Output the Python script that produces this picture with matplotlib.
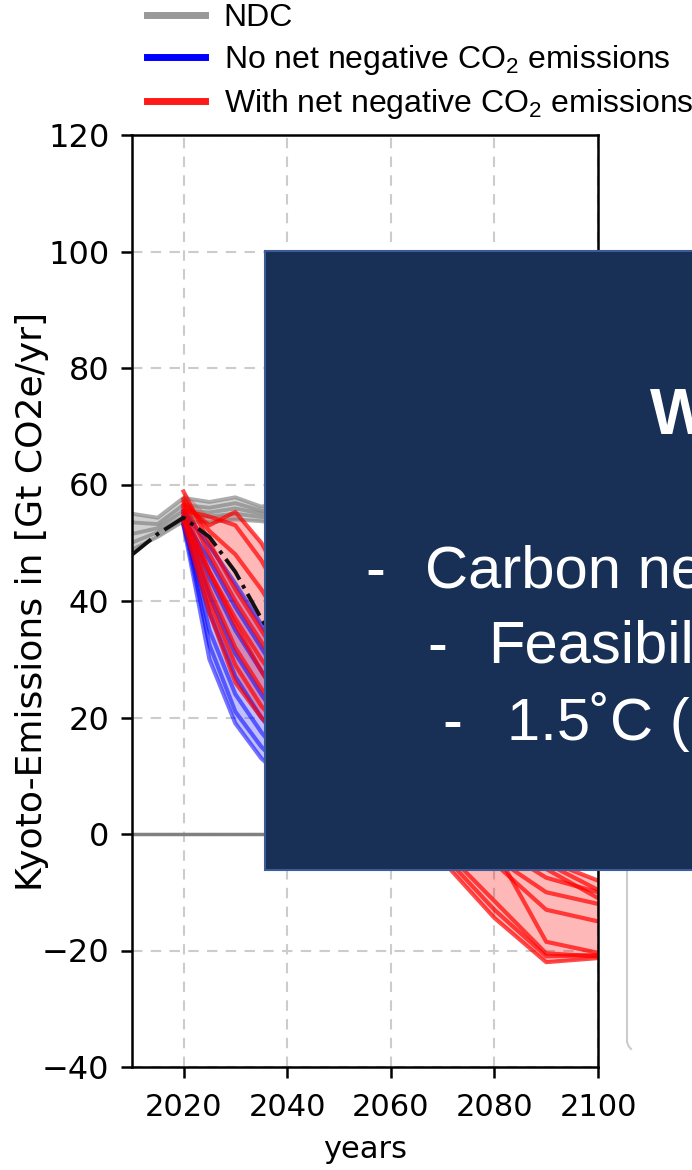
import matplotlib
matplotlib.use('Agg')
import matplotlib.pyplot as plt
from matplotlib.lines import Line2D
from matplotlib.patches import Rectangle
import numpy as np

plt.rcParams['mathtext.fontset'] = 'custom'
plt.rcParams['mathtext.rm'] = 'Liberation Sans'
plt.rcParams['mathtext.it'] = 'Liberation Sans:italic'

W, H = 692, 1170

def fx(px):
    return px / W

def fy(py):
    return 1 - py / H

# NDC pathways, Gt CO2e/yr
years_ndc = [2010, 2015, 2020, 2025, 2030, 2035, 2040, 2050, 2060, 2070, 2080, 2090, 2100]
ndc_1 = [55.0, 54.3, 57.7, 57.0, 57.8, 56.2, 57.0, 58.0, 58.5, 59.0, 59.5, 60.0, 60.5]
ndc_2 = [53.5, 53.2, 56.5, 56.0, 56.8, 55.5, 55.8, 56.5, 57.0, 57.2, 57.5, 57.8, 58.0]
ndc_3 = [51.5, 52.5, 55.5, 55.2, 55.9, 55.0, 54.8, 55.0, 55.3, 55.5, 55.8, 56.0, 56.2]
ndc_4 = [50.0, 51.8, 54.5, 54.5, 55.0, 54.4, 54.0, 53.5, 53.0, 52.8, 52.5, 52.2, 52.0]
ndc_5 = [48.8, 51.0, 53.7, 53.5, 54.0, 53.7, 53.0, 52.0, 51.0, 50.5, 50.0, 49.5, 49.0]

# median pathway
median = [47.9, 51.5, 54.3, 51.0, 45.0, 37.0, 30.0, 18.0, 8.0, 2.0, -1.5, -3.5, -4.5]

years_sc = [2020, 2025, 2030, 2035, 2040, 2045, 2050, 2060, 2070, 2080, 2090, 2100]

# no net negative CO2 emissions
blue_1 = [53.0, 30.0, 19.0, 13.0, 9.0, 6.5, 4.5, 2.5, 1.5, 1.0, 0.8, 0.5]
blue_2 = [53.5, 32.5, 21.0, 15.0, 10.5, 7.5, 5.5, 3.0, 2.0, 1.5, 1.0, 0.8]
blue_3 = [54.0, 35.0, 24.0, 17.5, 12.0, 8.5, 6.0, 3.5, 2.5, 2.0, 1.5, 1.0]
blue_4 = [53.0, 38.0, 27.0, 20.0, 14.5, 10.5, 7.5, 4.5, 3.0, 2.0, 1.5, 1.2]
blue_5 = [54.5, 41.0, 31.0, 24.0, 17.5, 12.5, 9.0, 5.5, 3.5, 2.5, 2.0, 1.5]
blue_6 = [55.0, 44.0, 35.0, 28.0, 21.0, 15.5, 11.0, 6.5, 4.0, 3.0, 2.2, 1.8]
blue_7 = [54.0, 47.0, 39.0, 32.0, 25.0, 18.5, 13.0, 7.5, 4.5, 3.0, 2.5, 2.0]
blue_8 = [55.5, 49.5, 43.0, 36.0, 28.5, 21.5, 15.5, 9.0, 5.5, 3.5, 2.5, 2.0]

# with net negative CO2 emissions
red_1 = [56.0, 45.0, 36.0, 28.0, 21.0, 15.0, 10.0, 3.0, -4.6, -14.4, -22.0, -21.3]
red_2 = [55.0, 42.0, 32.0, 25.0, 19.0, 14.0, 9.5, 3.5, -3.5, -13.0, -21.0, -20.8]
red_3 = [57.0, 48.0, 40.0, 33.0, 26.0, 19.5, 13.5, 5.0, -2.5, -11.5, -20.5, -21.0]
red_4 = [54.5, 40.0, 29.0, 22.0, 17.0, 13.0, 10.0, 4.5, 1.0, -2.5, -18.5, -20.4]
red_5 = [58.8, 50.0, 42.0, 35.0, 28.0, 22.0, 16.0, 7.0, 0.5, -4.0, -10.0, -12.0]
red_6 = [56.5, 53.0, 55.3, 50.0, 42.0, 34.0, 26.0, 12.0, 3.0, -2.0, -7.5, -10.0]
red_7 = [55.5, 54.5, 53.0, 47.0, 39.0, 31.0, 23.0, 10.0, 2.0, -3.0, -5.0, -9.6]
red_8 = [53.5, 38.0, 26.0, 20.0, 15.5, 12.0, 9.0, 4.0, 0.0, -3.0, -6.0, -11.0]
red_9 = [54.0, 45.0, 37.0, 30.0, 24.0, 18.0, 13.0, 6.0, 1.5, -1.5, -4.5, -8.0]
red_10 = [57.5, 52.0, 48.0, 42.0, 35.0, 28.0, 21.0, 9.0, 1.0, -5.0, -13.0, -15.0]

ndc_runs = [ndc_1, ndc_2, ndc_3, ndc_4, ndc_5]
blue_runs = [blue_1, blue_2, blue_3, blue_4, blue_5, blue_6, blue_7, blue_8]
red_runs = [red_1, red_2, red_3, red_4, red_5, red_6, red_7, red_8, red_9, red_10]

fig = plt.figure(figsize=(W / 100, H / 100), dpi=100)
ax = fig.add_axes([fx(131.7), fy(1067), fx(598) - fx(131.7), fy(135) - fy(1067)])

ax.axhline(0, color='#808080', lw=2.5, zorder=1)

ndc = np.array(ndc_runs)
ax.fill_between(years_ndc, ndc.min(axis=0), ndc.max(axis=0), color='#999999', alpha=0.45, lw=0)
for run in ndc_runs:
    ax.plot(years_ndc, run, color='#808080', lw=2.8, alpha=0.65)

blue = np.array(blue_runs)
ax.fill_between(years_sc, blue.min(axis=0), blue.max(axis=0), color='#3030ff', alpha=0.3, lw=0)
for run in blue_runs:
    ax.plot(years_sc, run, color='#0000ff', lw=3, alpha=0.55)

red = np.array(red_runs)
ax.fill_between(years_sc, red.min(axis=0), red.max(axis=0), color='#ff0000', alpha=0.28, lw=0)
for run in red_runs:
    ax.plot(years_sc, run, color='#ff0000', lw=3, alpha=0.7)

ax.plot(years_ndc, median, color='#111111', lw=2.8, ls='-.', zorder=5)

ax.set_xlim(2010, 2100)
ax.set_ylim(-40, 120)
ax.set_xticks([2020, 2040, 2060, 2080, 2100])
ax.set_yticks(np.arange(-40, 121, 20))
ax.grid(True, ls=(0, (5, 4)), color='#cccccc', lw=1.5)
ax.set_axisbelow(True)
for sp in ax.spines.values():
    sp.set_linewidth(1.8)
ax.tick_params(axis='both', direction='out', length=8, width=1.8)
ax.tick_params(axis='x', pad=11, labelsize=22)
ax.tick_params(axis='y', pad=8, labelsize=23)
ax.set_xlabel('years', fontsize=22, labelpad=9)
ax.set_ylabel('Kyoto-Emissions in [Gt CO2e/yr]', fontsize=26, labelpad=-5)

handles = [Line2D([], [], color='#999999', lw=5),
           Line2D([], [], color='#0000ff', lw=5),
           Line2D([], [], color='#ff1a1a', lw=5)]
labels = ['NDC', 'No net negative CO$_2$ emissions', 'With net negative CO$_2$ emissions']
fig.legend(handles, labels, loc='upper left', bbox_to_anchor=(fx(147), fy(3)),
           frameon=False, prop={'family': 'Liberation Sans', 'size': 23},
           handlelength=1.8, handletextpad=0.6, labelspacing=0.32,
           borderpad=0, borderaxespad=0)

# slide panel on top of the chart
box = Rectangle((fx(265), fy(870)), 1.0, fy(251) - fy(870), transform=fig.transFigure,
                facecolor='#182f56', edgecolor='#3b5c99', lw=1.5, zorder=10)
fig.add_artist(box)

panel_font = {'family': 'Liberation Sans', 'color': 'white'}
items = [
    (fx(650), fy(433), 'What matters', 46, 'bold'),
    (fx(365), fy(588), '-', 43, 'normal'),
    (fx(425), fy(588), 'Carbon neutrality', 43, 'normal'),
    (fx(427), fy(663), '-', 43, 'normal'),
    (fx(488), fy(663), 'Feasibility', 43, 'normal'),
    (fx(442), fy(740), '-', 43, 'normal'),
    (fx(507), fy(740), '1.5\u02daC (2100)', 43, 'normal'),
]
for x, y, s, size, weight in items:
    t = fig.text(x, y, s, fontsize=size, fontweight=weight, va='baseline', ha='left',
                 zorder=11, **panel_font)
    t.set_clip_path(box)

# edge of the neighbouring slide element
fig.add_artist(Line2D([fx(627), fx(627), fx(628.5), fx(631)],
                      [fy(872), fy(1042), fy(1046), fy(1049)],
                      transform=fig.transFigure, color='#cccccc', lw=1.5))

fig.savefig('out.png', dpi=100)
